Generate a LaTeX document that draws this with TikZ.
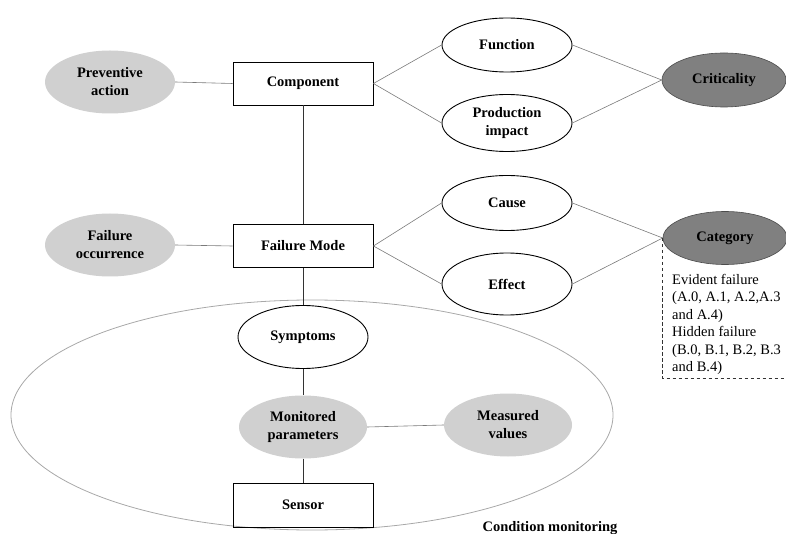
\documentclass[tikz,border=0pt]{standalone}
\usepackage{fontspec}
\setmainfont{Liberation Serif}
\usetikzlibrary{shapes.geometric}
\definecolor{lightfill}{HTML}{D0D0D0}
\definecolor{darkfill}{HTML}{808080}
\definecolor{linkgray}{HTML}{7A7A7A}
\definecolor{outergray}{HTML}{A8A8A8}
\tikzset{
  lbl/.style={font=\fontsize{14.5}{18}\selectfont\bfseries, align=center},
  boxnode/.style={lbl, draw=black, line width=0.9pt, minimum width=140pt, minimum height=43pt, inner sep=0pt},
  ellwhite/.style={lbl, ellipse, draw=black, line width=0.9pt, fill=white, minimum width=130pt, minimum height=58pt, inner sep=0pt},
  ellgray/.style={lbl, ellipse, fill=lightfill, minimum width=130pt, minimum height=63pt, inner sep=0pt},
  elldark/.style={lbl, ellipse, draw=black!70, line width=0.6pt, fill=darkfill, minimum width=124pt, minimum height=54pt, inner sep=0pt},
  link/.style={draw=linkgray, line width=0.6pt},
  vlink/.style={draw=black!80, line width=0.7pt}
}
\begin{document}
\begin{tikzpicture}[x=1pt,y=-1pt]
\useasboundingbox (0,0) rectangle (786,534);
% big condition monitoring ellipse
\draw[outergray, line width=0.8pt] (312,415) ellipse [x radius=301, y radius=115];
\node[lbl, anchor=base west] (cmlabel) at (479,531) {Condition monitoring};

% nodes
\node[ellgray] (prev) at (110,82) {Preventive\\action};
\node[boxnode] (comp) at (303,83.5) {Component};
\node[ellwhite, minimum height=54pt] (func) at (507,45) {Function};
\node[ellwhite, minimum height=57pt] (prod) at (507,123) {Production\\impact};
\node[elldark] (crit) at (724,80) {Criticality};

\node[ellgray] (focc) at (110,245) {Failure\\occurrence};
\node[boxnode] (fmode) at (303,246) {Failure Mode};
\node[ellwhite, minimum height=55pt] (cause) at (507,203) {Cause};
\node[ellwhite, minimum height=62pt] (effect) at (507,284) {Effect};
\node[elldark, minimum height=53pt] (cat) at (725,238) {Category};

\node[ellwhite, minimum height=63pt] (symp) at (303,337) {Symptoms};
\node[ellgray, minimum width=128pt] (monp) at (303,427) {Monitored\\parameters};
\node[ellgray, minimum width=128pt] (meas) at (508,425) {Measured\\values};
\node[boxnode, minimum height=44pt] (sensor) at (303,505) {Sensor};

% connectors
\draw[link] (prev.east) -- (comp.west);
\draw[link] (comp.east) -- (func.west);
\draw[link] (comp.east) -- (prod.west);
\draw[link] (func.east) -- (crit.west);
\draw[link] (prod.east) -- (crit.west);

\draw[link] (focc.east) -- (fmode.west);
\draw[link] (fmode.east) -- (cause.west);
\draw[link] (fmode.east) -- (effect.west);
\draw[link] (cause.east) -- (cat.west);
\draw[link] (effect.east) -- (cat.west);

\draw[vlink] (comp.south) -- (fmode.north);
\draw[vlink] (fmode.south) -- (symp.north);
\draw[vlink] (symp.south) -- (monp.north);
\draw[vlink] (monp.south) -- (sensor.north);
\draw[link] (monp.east) -- (meas.west);

% category dashed box
\coordinate (boxbl) at (664,378);
\coordinate (boxbr) at (790,378);
\draw[black!80, line width=0.7pt, dash pattern=on 3.5pt off 2.5pt] (cat.west) -- (cat.west |- boxbl) -- (boxbr);
\node[font=\fontsize{14.5}{17.4}\selectfont, align=left, anchor=north west, inner sep=0pt] (cattext) at (672,274)
  {Evident failure\\(A.0, A.1, A.2,A.3\\and A.4)\\Hidden failure\\(B.0, B.1, B.2, B.3\\and B.4)};
\end{tikzpicture}
\end{document}
